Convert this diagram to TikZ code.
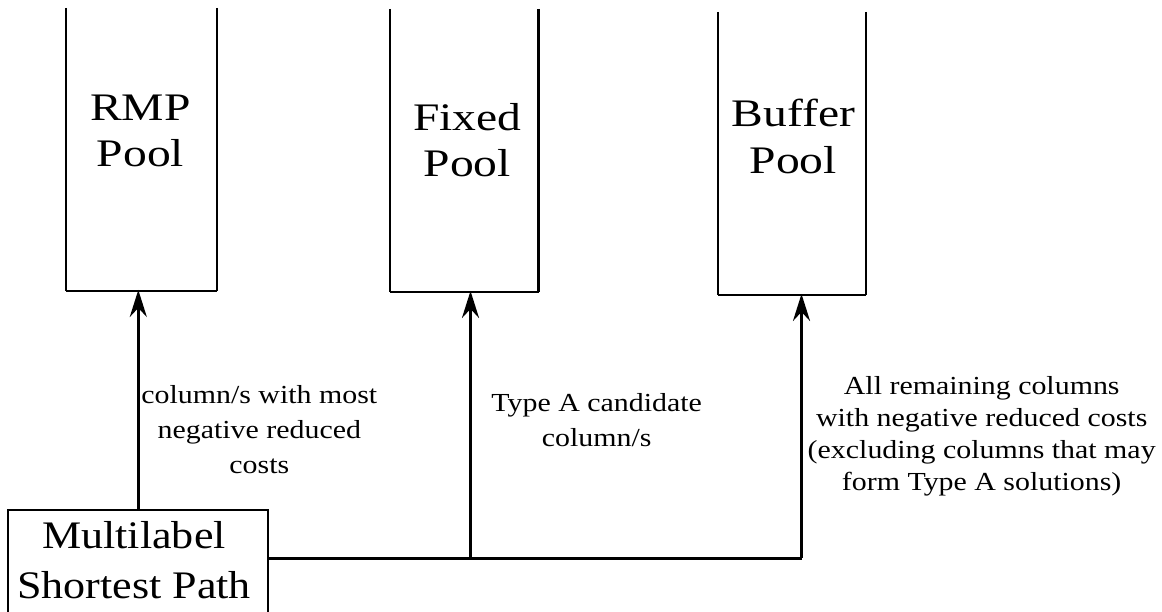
\documentclass[tikz,border=0pt]{standalone}
\usepackage{fontspec}
\setmainfont{Liberation Serif}
\newfontfamily\poolfont[FakeStretch=1.22]{Liberation Serif}
\newfontfamily\boxfont[FakeStretch=1.13]{Liberation Serif}
\newfontfamily\lblfont[FakeStretch=1.15]{Liberation Serif}
\usetikzlibrary{arrows.meta}
\tikzset{
  pool/.style={rectangle, inner sep=0pt, minimum width=#1, minimum height=282.7pt},
  pooltext/.style={inner sep=0pt, anchor=base, align=center,
    font={\poolfont\fontsize{39}{46.5}\selectfont}},
  wall/.style={line width=2.5pt},
  floor/.style={line width=1.6pt},
  feed/.style={line width=3.2pt},
  flow/.style={feed, -{Stealth[length=27pt, width=17pt, inset=9pt]}, shorten >=-1pt},
  lbl/.style={inner sep=0pt, anchor=base, align=center,
    font={\lblfont\fontsize{26}{#1}\selectfont}},
  solver/.style={draw, line width=2pt, rectangle, inner sep=0pt,
    minimum width=260pt, minimum height=140pt, anchor=north},
}
\begin{document}
\begin{tikzpicture}[x=1pt, y=-1pt]
  \useasboundingbox (0,0) rectangle (1162,612);
  \clip (0,0) rectangle (1162,612);

  % the three column pools (open at the top)
  \node[pool=150.4pt] (rmp) at (141.5,149.4) {};
  \node[pool=148.3pt] (fix) at (464.2,150.4) {};
  \node[pool=147.4pt] (buf) at (792.0,153.4) {};
  \foreach \p in {rmp,fix,buf}{
    \draw[wall] (\p.north west) -- (\p.south west);
    \draw[wall] (\p.north east) -- (\p.south east);
    \draw[floor] (\p.south west) -- (\p.south east);
  }
  % node base = baseline of the last line
  \node[pooltext] (rmpname) at (140.5,167) {RMP\\Pool};
  \node[pooltext] (fixname) at (467.2,176.7) {Fixed\\Pool};
  \node[pooltext] (bufname) at (793.3,173.3) {Buffer\\Pool};

  % pricing subproblem
  \node[solver] (ml) at (138.3,509.3) {};
  \node[inner sep=0pt, anchor=base, align=center,
        font={\boxfont\fontsize{39}{50}\selectfont}]
    (mltext) at (134,598.3) {Multilabel\\Shortest Path};

  % distribution of generated columns
  \coordinate (jf) at (470.5,558.3);
  \coordinate (jb) at (801.5,558.3);
  \draw[feed] ([yshift=-49pt]ml.north east) -- (jb);
  \draw[flow] (ml.north) -- (ml.north |- rmp.south);
  \draw[flow] (jf) -- (jf |- fix.south);
  \draw[flow] (jb) -- (jb |- buf.south);

  \node[lbl=35] (l1) at (259.3,473) {column/s with most\\negative reduced\\costs};
  \node[lbl=34.5] (l2) at (596.7,446) {Type A candidate\\column/s};
  \node[lbl=31.7] (l3) at (981.7,490) {All remaining columns\\with negative reduced costs\\(excluding columns that may\\form Type A solutions)};
\end{tikzpicture}
\end{document}
